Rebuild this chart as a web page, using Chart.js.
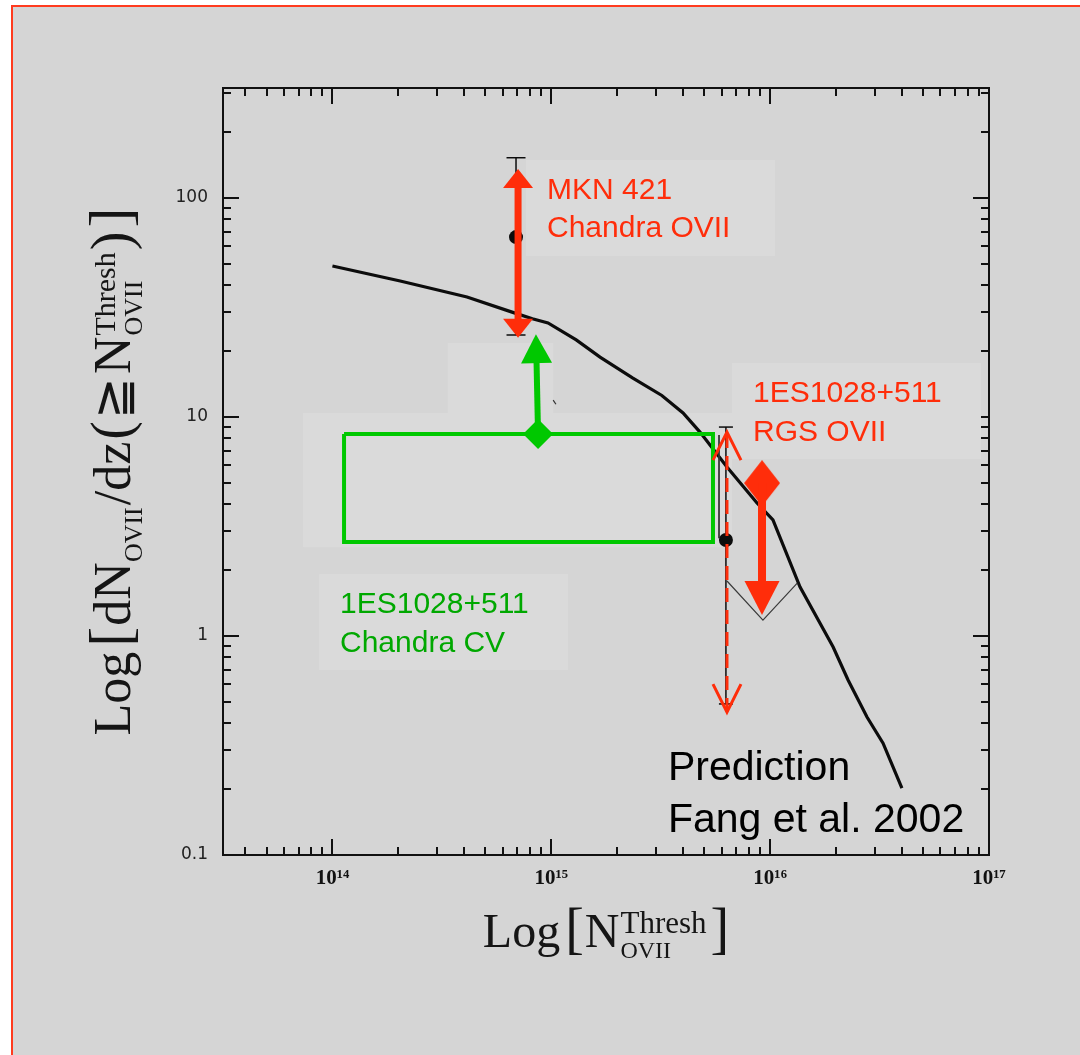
<!DOCTYPE html>
<html>
<head>
<meta charset="utf-8">
<title>OVII absorbers per unit redshift</title>
<script src="https://cdn.jsdelivr.net/npm/chart.js@4.4.1/dist/chart.umd.min.js"></script>
<style>
  html, body { margin: 0; padding: 0; background: #ffffff; }
  #frame {
    position: absolute; left: 11px; top: 5px; width: 1069px; height: 1050px;
    box-sizing: border-box; background: #d5d5d5;
    border-top: 2px solid #ff3b1f; border-left: 2px solid #ff3b1f;
  }
  #plot { position: absolute; left: 0; top: 0; }
</style>
</head>
<body>
<div id="frame"></div>
<canvas id="plot" width="1080" height="1055"></canvas>
<script>
// ---- Prediction curve: Fang et al. 2002 ----
const predN     = [1.0e14, 2.04e14, 4.12e14, 6.83e14, 8.2e14, 9.66e14, 1.3e15, 1.67e15, 2.36e15, 3.2e15, 4.0e15, 4.78e15,
                   6.35e15, 8.71e15, 1.03e16, 1.37e16, 1.94e16, 2.27e16, 2.77e16, 3.28e16, 4.0e16];
const predDNdz  = [48.7, 41.6, 35.2, 29.7, 28.0, 26.8, 22.4, 18.7, 15.0, 12.5, 10.4, 8.51,
                   5.89, 4.04, 3.38, 1.67, 0.889, 0.629, 0.426, 0.324, 0.202];

// ---- MKN 421, Chandra OVII ----
const mknPoint   = [6.9e14, 66];          // N, dN/dz
const mknErr     = [23.6, 152];           // lower, upper
const mknRange   = [7.05e14, 22.9, 135];  // N, low end, high end

// ---- 1ES1028+511, RGS OVII ----
const rgsPoint   = [6.28e15, 2.74];
const rgsErr     = [0.489, 8.97];
const rgsRange   = [6.35e15, 0.449, 8.51];
const rgsLimit   = [9.18e15, 4.98, 1.245]; // N, value, arrow tip
const rgsEdgeN   = [5.84e15, 5.84e15];
const rgsEdgeV   = [8.25, 2.79];
const rgsVeeN    = [6.35e15, 9.27e15, 1.33e16];
const rgsVeeV    = [1.78, 1.18, 1.74];
const strayN     = [1.02e15, 1.05e15];
const strayV     = [11.9, 11.4];

// ---- 1ES1028+511, Chandra CV ----
const cvBoxN     = [1.13e14, 5.48e15];    // N range
const cvBoxV     = [2.68, 8.34];          // dN/dz range
const cvLimit    = [8.70e14, 8.34];       // N, lower limit
const cvTip      = [8.51e14, 23.8];

// ---- Axes ----
const xRange     = [Math.pow(10, 13.5), 1e17];
const yRange     = [0.1, Math.pow(10, 2.5)];
const xMajor     = [1e14, 1e15, 1e16, 1e17];
const xLabels    = ['10\u00B9\u2074', '10\u00B9\u2075', '10\u00B9\u2076', '10\u00B9\u2077'];
const yMajor     = [0.1, 1, 10, 100];
const yLabels    = ['0.1', '1', '10', '100'];
const minorSteps = [2, 3, 4, 5, 6, 7, 8, 9];

const RED = '#ff2d0a';
const GREEN = '#00c800';
const GREEN_TEXT = '#00a800';
const INK = '#0c0c0c';
const SANS = '"Liberation Sans", Arial, Helvetica, sans-serif';
const SERIF = '"Liberation Serif", "DejaVu Serif", serif';

// Text boxes (anchor = left edge / first baseline, in data units)
const notes = [
  { lines: ['MKN 421', 'Chandra OVII'],     at: [9.56e14, 98.5],  color: RED,        size: 30, gap: 38, box: true },
  { lines: ['1ES1028+511', 'RGS OVII'],     at: [8.35e15, 11.67], color: RED,        size: 30, gap: 39, box: true },
  { lines: ['1ES1028+511', 'Chandra CV'],   at: [1.083e14, 1.27], color: GREEN_TEXT, size: 30, gap: 39, box: true },
  { lines: ['Prediction', 'Fang et al. 2002'], at: [3.41e15, 0.220], color: '#000', size: 41, gap: 52, box: false }
];
// Pale panels behind the CV annotations
const shades = [
  { n: [3.37e14, 1.02e15], v: [10.4, 21.7] },
  { n: [7.34e13, 6.69e15], v: [2.54, 10.4] }
];

function isMajor(v, majors) {
  return majors.findIndex(m => Math.abs(Math.log10(v / m)) < 1e-6);
}
function tickList(range, majors, decades) {
  const out = majors.slice();
  decades.forEach(d => minorSteps.forEach(m => {
    const v = m * d;
    if (v >= range[0] * 0.999 && v <= range[1] * 1.001) out.push(v);
  }));
  return out.sort((a, b) => a - b);
}
const xTickValues = tickList(xRange, xMajor, [1e13, 1e14, 1e15, 1e16]);
const yTickValues = tickList(yRange, yMajor, [0.1, 1, 10, 100]);

const pts = (xs, ys) => xs.map((x, i) => ({ x, y: ys[i] }));

function diamondImage(w, h, color) {
  const c = document.createElement('canvas');
  c.width = w; c.height = h;
  const g = c.getContext('2d');
  g.fillStyle = color;
  g.beginPath();
  g.moveTo(w / 2, 0); g.lineTo(w, h / 2); g.lineTo(w / 2, h); g.lineTo(0, h / 2);
  g.closePath(); g.fill();
  return c;
}

// Mixed-size text with stacked super/subscripts, laid out along the baseline
function richLayout(ctx, parts) {
  let total = 0;
  const items = parts.map(p => {
    let w;
    if (p.t !== undefined) {
      ctx.font = p.s + 'px ' + SERIF;
      w = ctx.measureText(p.t).width;
    } else {
      ctx.font = p.s + 'px ' + SERIF;
      const w1 = p.sup ? ctx.measureText(p.sup).width : 0;
      ctx.font = p.ss + 'px ' + SERIF;
      const w2 = p.sub ? ctx.measureText(p.sub).width : 0;
      w = Math.max(w1, w2);
    }
    const item = { p, x: total + (p.pre || 0), w };
    total += w + (p.pre || 0) + (p.post || 0);
    return item;
  });
  return { items, total };
}
function drawRich(ctx, parts, cx, base, supUp, subDown) {
  const { items, total } = richLayout(ctx, parts);
  const x0 = cx - total / 2;
  ctx.fillStyle = '#151515';
  ctx.textBaseline = 'alphabetic';
  ctx.textAlign = 'left';
  items.forEach(({ p, x }) => {
    if (p.t !== undefined) {
      ctx.font = p.s + 'px ' + SERIF;
      ctx.fillText(p.t, x0 + x, base + (p.dy || 0));
    } else {
      if (p.sup) { ctx.font = p.s + 'px ' + SERIF; ctx.fillText(p.sup, x0 + x, base - supUp); }
      if (p.sub) { ctx.font = p.ss + 'px ' + SERIF; ctx.fillText(p.sub, x0 + x, base + subDown); }
    }
  });
}

const xTitle = [
  { t: 'Log', s: 48 }, { t: '[', s: 56, pre: 5, post: 1 }, { t: 'N', s: 48 },
  { sup: 'Thresh', sub: 'OVII', s: 31, ss: 24, pre: 1 }, { t: ']', s: 56, pre: 4 }
];
const yTitle = [
  { t: 'Log', s: 52 }, { t: '[', s: 60, pre: 5, post: 1 }, { t: 'dN', s: 52 },
  { sub: 'OVII', s: 26, ss: 26 }, { t: '/', s: 52, pre: 2 }, { t: 'dz', s: 52 },
  { t: '(', s: 56, pre: 2 }, { t: '\u2267', s: 50, pre: 2, post: 3 }, { t: 'N', s: 52 },
  { sup: 'Thresh', sub: 'OVII', s: 30, ss: 26, pre: 1 }, { t: ')', s: 56, pre: 2 }, { t: ']', s: 60, pre: 4 }
];

const decor = {
  id: 'decor',
  beforeDatasetsDraw(chart) {
    const { ctx, chartArea: a, scales: { x, y } } = chart;
    ctx.save();
    // inward tick marks on all four sides
    ctx.strokeStyle = '#111';
    ctx.lineWidth = 2;
    ctx.beginPath();
    xTickValues.forEach(v => {
      const px = Math.round(x.getPixelForValue(v));
      const len = isMajor(v, xMajor) >= 0 ? 16 : 8;
      ctx.moveTo(px, a.bottom); ctx.lineTo(px, a.bottom - len);
      ctx.moveTo(px, a.top); ctx.lineTo(px, a.top + len);
    });
    yTickValues.forEach(v => {
      const py = Math.round(y.getPixelForValue(v));
      const len = isMajor(v, yMajor) >= 0 ? 16 : 8;
      ctx.moveTo(a.left, py); ctx.lineTo(a.left + len, py);
      ctx.moveTo(a.right, py); ctx.lineTo(a.right - len, py);
    });
    ctx.stroke();
    ctx.lineWidth = 2;
    ctx.strokeRect(a.left, a.top, a.right - a.left, a.bottom - a.top);

    // pale panels and text boxes
    ctx.fillStyle = '#dadada';
    shades.forEach(s => {
      const x0 = x.getPixelForValue(s.n[0]), x1 = x.getPixelForValue(s.n[1]);
      const y0 = y.getPixelForValue(s.v[1]), y1 = y.getPixelForValue(s.v[0]);
      ctx.fillRect(x0, y0, x1 - x0, y1 - y0);
    });
    notes.forEach(n => {
      if (!n.box) return;
      const px = x.getPixelForValue(n.at[0]), py = y.getPixelForValue(n.at[1]);
      ctx.fillRect(px - 21, py - 39, 249, 96);
    });
    ctx.restore();
  },
  afterDatasetsDraw(chart) {
    const { ctx, scales: { x, y } } = chart;
    ctx.save();
    // arrows carried by datasets with an `arrow` option
    chart.data.datasets.forEach((ds, i) => {
      const a = ds.arrow;
      if (!a) return;
      const els = chart.getDatasetMeta(i).data;
      const p0 = { x: els[0].x, y: els[0].y }, p1 = { x: els[1].x, y: els[1].y };
      const len = Math.hypot(p1.x - p0.x, p1.y - p0.y);
      const ux = (p1.x - p0.x) / len, uy = (p1.y - p0.y) / len;
      const nx = -uy, ny = ux;
      const filled = a.style === 'filled';
      const both = a.heads === 'both';
      ctx.strokeStyle = a.color; ctx.fillStyle = a.color;
      ctx.lineWidth = a.width; ctx.lineCap = 'butt'; ctx.lineJoin = 'miter';
      ctx.setLineDash(a.dash || []);
      const inset = filled ? a.headH * 0.8 : 0;
      ctx.beginPath();
      ctx.moveTo(p0.x + ux * (both ? inset : 0), p0.y + uy * (both ? inset : 0));
      ctx.lineTo(p1.x - ux * inset, p1.y - uy * inset);
      ctx.stroke();
      ctx.setLineDash([]);
      const head = (tip, dx, dy) => {
        const bx = tip.x - dx * a.headH, by = tip.y - dy * a.headH, hw = a.headW / 2;
        ctx.beginPath();
        ctx.moveTo(bx + nx * hw, by + ny * hw);
        ctx.lineTo(tip.x, tip.y);
        ctx.lineTo(bx - nx * hw, by - ny * hw);
        if (filled) { ctx.closePath(); ctx.fill(); }
        else { ctx.lineWidth = a.headLine; ctx.stroke(); }
      };
      head(p1, ux, uy);
      if (both) head(p0, -ux, -uy);
    });
    // annotation text
    ctx.textAlign = 'left';
    ctx.textBaseline = 'alphabetic';
    notes.forEach(n => {
      const px = x.getPixelForValue(n.at[0]), py = y.getPixelForValue(n.at[1]);
      ctx.fillStyle = n.color;
      ctx.font = n.size + 'px ' + SANS;
      n.lines.forEach((line, k) => ctx.fillText(line, px, py + k * n.gap));
    });
    ctx.restore();
  },
  afterDraw(chart) {
    const { ctx, chartArea: a } = chart;
    ctx.save();
    drawRich(ctx, xTitle, (a.left + a.right) / 2, a.bottom + 92, 14, 11);
    ctx.translate(a.left - 93, (a.top + a.bottom) / 2);
    ctx.rotate(-Math.PI / 2);
    drawRich(ctx, yTitle, 0, 0, 15, 12);
    ctx.restore();
  }
};

const logAxis = (range, values, majors, labels, extra) => Object.assign({
  type: 'logarithmic',
  min: range[0],
  max: range[1],
  afterBuildTicks: s => { s.ticks = values.map(v => ({ value: v })); },
  grid: { display: false, drawTicks: false },
  border: { display: false },
  ticks: {
    autoSkip: false,
    maxRotation: 0,
    minRotation: 0,
    callback: v => { const k = isMajor(v, majors); return k >= 0 ? labels[k] : ''; }
  }
}, extra);

const xAxis = logAxis(xRange, xTickValues, xMajor, xLabels, {
  afterFit: s => { s.height = 200; }
});
xAxis.ticks.padding = 11;
xAxis.ticks.color = '#111';
xAxis.ticks.font = { family: SERIF, size: 21, weight: 'bold' };

const yAxis = logAxis(yRange, yTickValues, yMajor, yLabels, {
  afterFit: s => { s.width = 223; }
});
yAxis.ticks.padding = 15;
yAxis.ticks.color = '#222';
yAxis.ticks.font = { family: '"DejaVu Sans", sans-serif', size: 17 };

new Chart(document.getElementById('plot'), {
  type: 'scatter',
  data: {
    datasets: [
      { label: 'Fang et al. 2002', data: pts(predN, predDNdz), showLine: true,
        borderColor: INK, borderWidth: 3.2, pointRadius: 0, order: 20 },
      { label: 'MKN 421 error', data: pts([mknPoint[0], mknPoint[0]], mknErr), showLine: true,
        borderColor: INK, borderWidth: 1.5, pointStyle: 'line', pointRadius: 9.5,
        pointBorderColor: INK, pointBorderWidth: 1.5, order: 15 },
      { label: 'MKN 421', data: pts([mknPoint[0]], [mknPoint[1]]),
        pointRadius: 7, pointBackgroundColor: INK, pointBorderWidth: 0, order: 14 },
      { label: 'RGS error', data: pts([rgsPoint[0], rgsPoint[0]], rgsErr), showLine: true,
        borderColor: INK, borderWidth: 1.5, pointStyle: 'line', pointRadius: 7,
        pointBorderColor: INK, pointBorderWidth: 1.5, order: 15 },
      { label: 'RGS', data: pts([rgsPoint[0]], [rgsPoint[1]]),
        pointRadius: 7, pointBackgroundColor: INK, pointBorderWidth: 0, order: 14 },
      { label: 'RGS edge', data: pts(rgsEdgeN, rgsEdgeV), showLine: true,
        borderColor: '#333', borderWidth: 1, pointRadius: 0, order: 16 },
      { label: 'RGS limit outline', data: pts(rgsVeeN, rgsVeeV), showLine: true,
        borderColor: '#3a3a3a', borderWidth: 1.2, pointRadius: 0, order: 16 },
      { label: 'stray', data: pts(strayN, strayV), showLine: true,
        borderColor: '#333', borderWidth: 1.2, pointRadius: 0, order: 16 },
      { label: 'Chandra CV', showLine: true, borderColor: GREEN, borderWidth: 4, pointRadius: 0,
        data: pts([cvBoxN[0], cvBoxN[1], cvBoxN[1], cvBoxN[0], cvBoxN[0]],
                  [cvBoxV[1], cvBoxV[1], cvBoxV[0], cvBoxV[0], cvBoxV[1]]), order: 8 },
      { label: 'CV limit', data: pts([cvLimit[0]], [cvLimit[1]]), pointStyle: 'rectRot',
        pointRadius: 15, pointBackgroundColor: GREEN, pointBorderWidth: 0, order: 6 },
      { label: 'CV arrow', data: pts([cvLimit[0], cvTip[0]], [cvLimit[1], cvTip[1]]),
        pointRadius: 0, order: 5,
        arrow: { style: 'filled', heads: 'end', color: GREEN, width: 6, headW: 31, headH: 29 } },
      { label: 'MKN range', data: pts([mknRange[0], mknRange[0]], [mknRange[1], mknRange[2]]),
        pointRadius: 0, order: 5,
        arrow: { style: 'filled', heads: 'both', color: RED, width: 7, headW: 30, headH: 19 } },
      { label: 'RGS range', data: pts([rgsRange[0], rgsRange[0]], [rgsRange[1], rgsRange[2]]),
        pointRadius: 0, order: 5,
        arrow: { style: 'open', heads: 'both', color: RED, width: 3, dash: [14, 8], headW: 28, headH: 28, headLine: 3 } },
      { label: 'RGS limit', data: pts([rgsLimit[0]], [rgsLimit[1]]),
        pointStyle: diamondImage(36, 46, RED), pointRadius: 18, order: 4 },
      { label: 'RGS limit arrow', data: pts([rgsLimit[0], rgsLimit[0]], [rgsLimit[1], rgsLimit[2]]),
        pointRadius: 0, order: 5,
        arrow: { style: 'filled', heads: 'end', color: RED, width: 8, headW: 35, headH: 34 } }
    ]
  },
  options: {
    responsive: false,
    animation: false,
    devicePixelRatio: 1,
    layout: { padding: { left: 0, top: 88, right: 91, bottom: 0 } },
    plugins: { legend: { display: false }, tooltip: { enabled: false } },
    scales: { x: xAxis, y: yAxis }
  },
  plugins: [decor]
});
</script>
</body>
</html>
